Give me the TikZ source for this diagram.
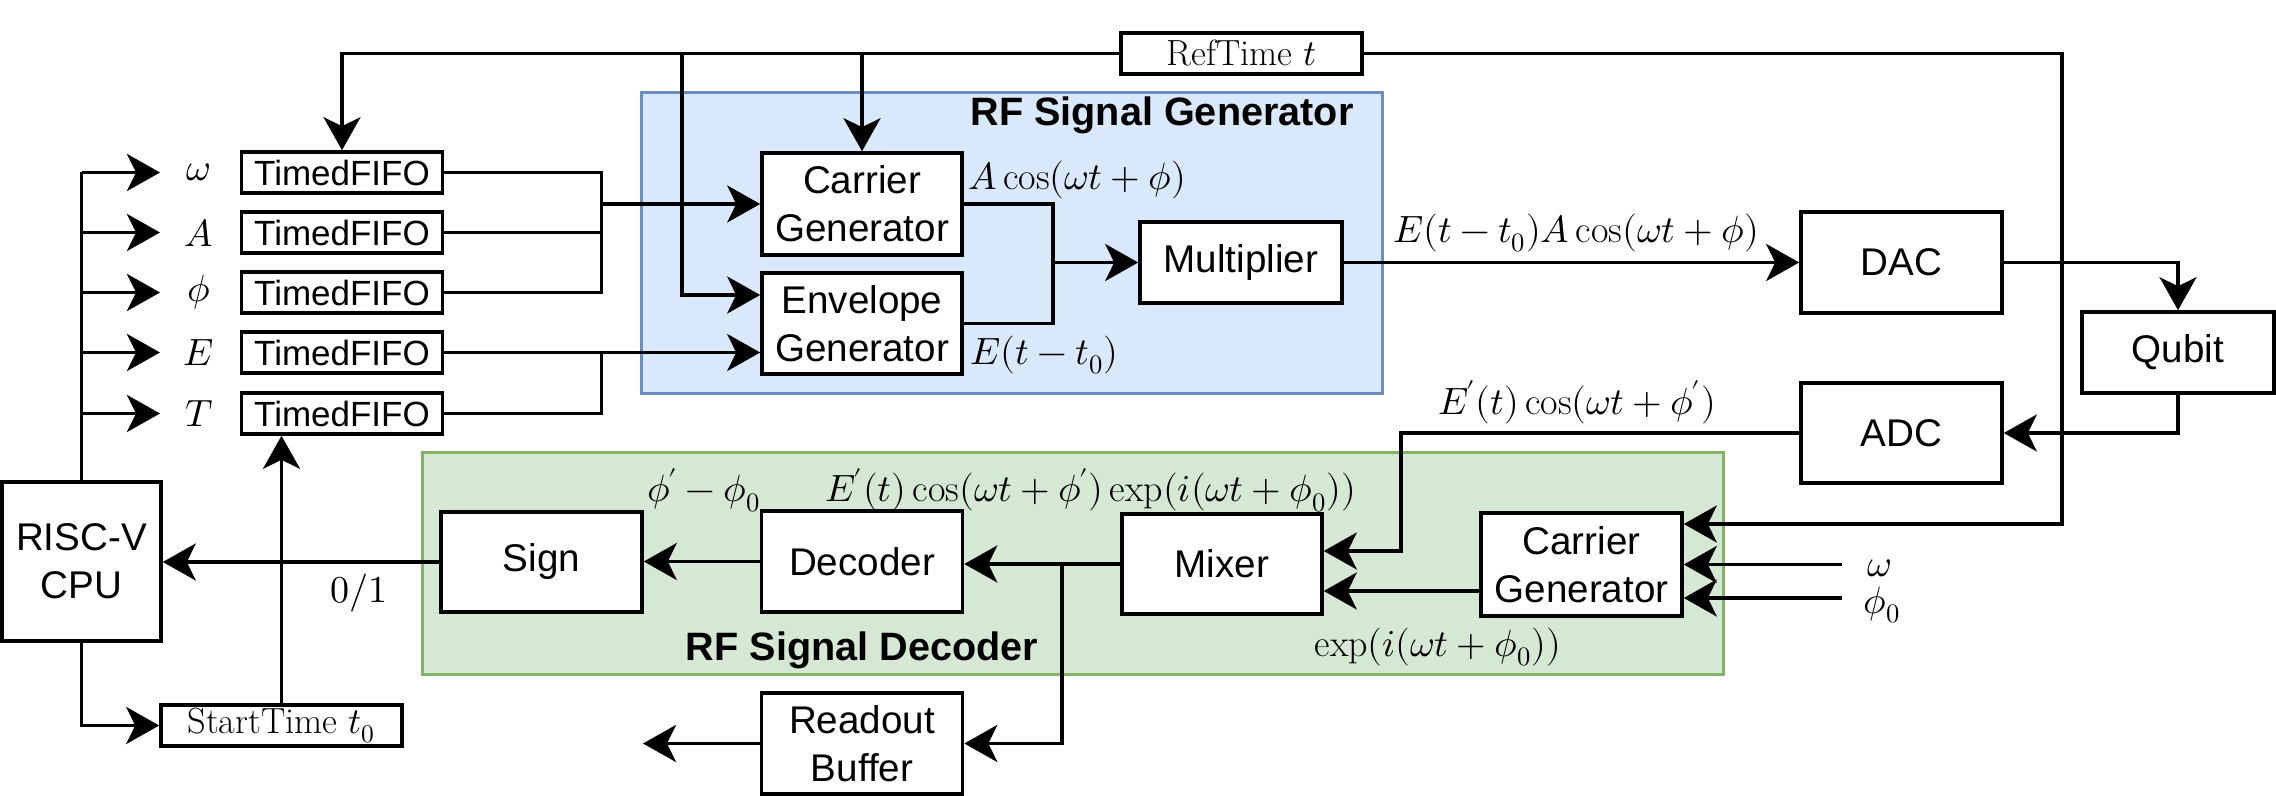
\documentclass[tikz,border=0pt]{standalone}
\usepackage{unicode-math}
\setmathfont{Latin Modern Math}
\setsansfont{Liberation Sans}
\usetikzlibrary{arrows.meta,calc}
\definecolor{blueF}{HTML}{DAE8FC}
\definecolor{blueD}{HTML}{6C8EBF}
\definecolor{greenF}{HTML}{D5E8D4}
\definecolor{greenD}{HTML}{82B366}
\newcommand{\myprime}{\mkern-0.8mu'}
\begin{document}
\begin{tikzpicture}[x=0.5pt,y=-0.5pt,
  lw/.style={line width=1.8pt},
  arr/.style={lw,-{Stealth[length=16.5pt,width=18.5pt,inset=4.5pt]}},
  blk/.style={draw,lw,fill=white,inner sep=0pt,align=center,font=\sffamily\fontsize{19.3}{24}\selectfont},
  fifo/.style={blk,minimum width=100.5pt,minimum height=20.5pt,font=\sffamily\fontsize{17.5}{20}\selectfont},
  mlbl/.style={inner sep=0pt,font=\fontsize{19}{22}\selectfont},
  ttl/.style={inner sep=0pt,font=\sffamily\bfseries\fontsize{19.8}{22}\selectfont},
  cont/.style={draw,line width=1.5pt,inner sep=0pt}
]
\useasboundingbox (0,0) rectangle (2276,796);
% containers
\node[cont,draw=blueD,fill=blueF,minimum width=370.5pt,minimum height=150.5pt] (gen) at (1011.5,243.5) {};
\node[cont,draw=greenD,fill=greenF,minimum width=650.5pt,minimum height=110.5pt] (decb) at (1072.5,563.5) {};
\node[ttl] (genT) at (1162,115) {RF Signal Generator};
\node[ttl] (decT) at (862,650) {RF Signal Decoder};
% blocks
\node[blk,minimum width=120.5pt,minimum height=20.5pt,font=\fontsize{18.2}{20}\selectfont] (ref) at (1241.5,53.5) {$\mathrm{RefTime}\ t$};
\node[fifo] (fifoW) at (342,172.5) {TimedFIFO};
\node[fifo] (fifoA) at (342,232.5) {TimedFIFO};
\node[fifo] (fifoP) at (342,292.5) {TimedFIFO};
\node[fifo] (fifoE) at (342,352.5) {TimedFIFO};
\node[fifo] (fifoT) at (342,413.5) {TimedFIFO};
\node[blk,minimum width=79.5pt,minimum height=79.5pt] (cpu) at (81.5,561.5) {RISC-V\\CPU};
\node[blk,minimum width=120.5pt,minimum height=20.5pt,font=\fontsize{18.2}{20}\selectfont] (st) at (281.5,725.5) {$\mathrm{StartTime}\ t_0$};
\node[blk,minimum width=100pt,minimum height=51pt] (car) at (862,204) {Carrier\\Generator};
\node[blk,minimum width=100pt,minimum height=50.5pt] (env) at (862,323.5) {Envelope\\Generator};
\node[blk,minimum width=101pt,minimum height=40.5pt] (mul) at (1241,262.5) {Multiplier};
\node[blk,minimum width=100.5pt,minimum height=50.5pt] (dac) at (1901.5,262.5) {DAC};
\node[blk,minimum width=96pt,minimum height=40.5pt] (qub) at (2178,352.5) {Qubit};
\node[blk,minimum width=100.5pt,minimum height=50pt] (adc) at (1901.5,433) {ADC};
\node[blk,minimum width=100.5pt,minimum height=51.5pt] (cg2) at (1581.5,564.5) {Carrier\\Generator};
\node[blk,minimum width=100pt,minimum height=50pt] (mix) at (1222,564) {Mixer};
\node[blk,minimum width=100.5pt,minimum height=50.5pt] (dec) at (862,561.5) {Decoder};
\node[blk,minimum width=100.5pt,minimum height=50pt] (sign) at (541.5,562) {Sign};
\node[blk,minimum width=100.5pt,minimum height=50.5pt] (rdo) at (862,743.5) {Readout\\Buffer};
% labels
\node[mlbl] (lW) at (199,172.5) {$\omega$};
\node[mlbl] (lA) at (199,232.5) {$A$};
\node[mlbl] (lP) at (199,292.5) {$\phi$};
\node[mlbl] (lE) at (199,352.5) {$E$};
\node[mlbl] (lT) at (199,413.5) {$T$};
\node[mlbl,anchor=west] (lcar) at (968,180) {$A\cos(\omega t+\phi)$};
\node[mlbl,anchor=west] (lenv) at (970,355) {$E(t-t_0)$};
\node[mlbl] (lmul) at (1576,233) {$E(t-t_0)A\cos(\omega t+\phi)$};
\node[mlbl] (ladc) at (1577,402) {$E\myprime(t)\cos(\omega t+\phi\myprime)$};
\node[mlbl] (ldec) at (704,490) {$\phi\myprime-\phi_0$};
\node[mlbl] (lmix) at (1091,490) {$E\myprime(t)\cos(\omega t+\phi\myprime)\exp(i(\omega t+\phi_0))$};
\node[mlbl] (lcg) at (1438,647) {$\exp(i(\omega t+\phi_0))$};
\node[mlbl] (l01) at (359,593) {$0/1$};
\node[mlbl] (lw2) at (1879,568) {$\omega$};
\node[mlbl] (lp2) at (1882,605) {$\phi_0$};
% coordinates
\coordinate (r1) at (682,53);
\coordinate (envIn1) at ($(env.west)+(0,-28.5)$);
\coordinate (rx) at (2062,53);
\coordinate (cgIn1) at ($(cg2.east)+(0,-40.5)$);
\coordinate (cgIn3) at ($(cg2.east)+(0,33.5)$);
\coordinate (cgOut) at ($(cg2.west)+(0,26.5)$);
\coordinate (mxIn2) at (cgOut -| mix.east);
\coordinate (mxIn1) at ($(mix.east)+(0,-13)$);
\coordinate (mx) at (601.5,0);
\coordinate (jx) at (1053,0);
\coordinate (ax) at (1401,0);
\coordinate (inx) at (1841.5,0);
\coordinate (bx) at (1062,0);
\coordinate (rdoOut) at (643,743.5);
\coordinate (tipx) at (160,0);
% RefTime
\draw[arr] (ref.west) -| (fifoW.north);
\draw[arr] (ref.west) -| (r1 |- envIn1) -- (envIn1);
\draw[arr] (ref.west) -| (car.north);
\draw[arr] (ref.east) -| (rx |- cgIn1) -- (cgIn1);
% FIFOs
\draw[lw] (fifoW.east) -| (mx |- fifoP.east) -- (fifoP.east);
\draw[lw] (fifoA.east) -- (mx |- fifoA.east);
\draw[arr] (mx |- car.west) -- (car.west);
\draw[arr] (fifoE.east) -- (fifoE.east -| env.west);
\draw[lw] (fifoT.east) -| (mx |- fifoE.east);
% generator
\draw[lw] (car.east) -| (jx |- env.east) -- (env.east);
\draw[arr] (jx |- mul.west) -- (mul.west);
\draw[arr] (mul.east) -- (dac.west);
\draw[arr] (dac.east) -| (qub.north);
\draw[arr] (qub.south) |- (adc.east);
\draw[arr] (adc.west) -| (ax |- mxIn1) -- (mxIn1);
\draw[arr] (cgOut) -- (mxIn2);
\draw[arr] (inx |- cg2.east) -- (cg2.east);
\draw[arr] (inx |- cgIn3) -- (cgIn3);
% decoder
\draw[arr] (mix.west) -- (mix.west -| dec.east);
\draw[arr] (bx |- mix.west) |- (rdo.east);
\draw[arr] (dec.west) -- (dec.west -| sign.east);
\draw[arr] (sign.west) -- (sign.west -| cpu.east);
\draw[arr] (rdo.west) -- (rdoOut);
% CPU
\draw[lw] (cpu.north) -- (cpu.north |- fifoW.east);
\foreach \f in {fifoW,fifoA,fifoP,fifoE,fifoT}{
  \draw[arr] (cpu.north |- \f.east) -- (tipx |- \f.east);
}
\draw[arr] (cpu.south) |- (st.west);
\draw[arr] (st.north) -- (st.north |- fifoT.south);
\end{tikzpicture}
\end{document}
